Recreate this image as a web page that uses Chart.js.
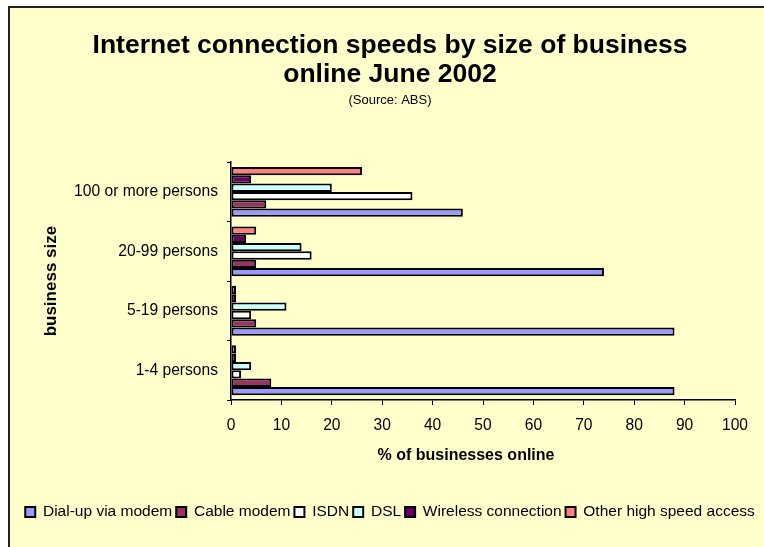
<!DOCTYPE html>
<html>
<head>
<meta charset="utf-8">
<title>Internet connection speeds by size of business online June 2002</title>
<script src="https://cdn.jsdelivr.net/npm/chart.js@4.4.1/dist/chart.umd.min.js"></script>
<style>
  html, body { margin: 0; padding: 0; background: #ffffff; }
  #wrap { width: 764px; height: 547px; }
</style>
</head>
<body>
<div id="wrap"><canvas id="myChart" width="764" height="547"></canvas></div>
<script>
// categories (bottom to top, like the excel sheet)
const sizes = ['1-4 persons', '5-19 persons', '20-99 persons', '100 or more persons'];

// % of businesses online for each connection type
const dialUp   = [88, 88, 74, 46];
const cable    = [8, 5, 5, 7];
const isdn     = [2, 4, 16, 36];
const dsl      = [4, 11, 14, 20];
const wireless = [1, 1, 3, 4];
const other    = [1, 1, 5, 26];

const seriesNames = ['Dial-up via modem', 'Cable modem', 'ISDN', 'DSL', 'Wireless connection', 'Other high speed access'];
const seriesColors = ['#9999FF', '#993366', '#FFFFFF', '#CCFFFF', '#660066', '#FF8080'];

const xTicks = [0, 10, 20, 30, 40, 50, 60, 70, 80, 90, 100];

const FONT = "'Liberation Sans', Arial, sans-serif";

//yellow sheet with the dark frame line on top and left
const sheetBackground = {
  id: 'sheetBackground',
  beforeDraw(chart) {
    const ctx = chart.ctx;
    ctx.save();
    ctx.fillStyle = '#ffffff';
    ctx.fillRect(0, 0, chart.width, chart.height);
    ctx.fillStyle = '#FFFFCC';
    ctx.fillRect(9, 7, chart.width - 9, chart.height - 7);
    ctx.strokeStyle = '#222222';
    ctx.lineWidth = 2;
    ctx.beginPath();
    ctx.moveTo(8, 7);
    ctx.lineTo(chart.width, 7);
    ctx.moveTo(9, 6);
    ctx.lineTo(9, chart.height);
    ctx.stroke();
    ctx.restore();
  }
};

// x axis title sits a bit left of the plot centre in the original
const xAxisTitle = {
  id: 'xAxisTitle',
  afterDraw(chart) {
    const ctx = chart.ctx;
    const area = chart.chartArea;
    ctx.save();
    ctx.font = 'bold 16px ' + FONT;
    ctx.fillStyle = '#000000';
    ctx.textAlign = 'center';
    ctx.textBaseline = 'middle';
    ctx.fillText('% of businesses online', (area.left + area.right) / 2 - 17, area.bottom + 56);
    ctx.restore();
  }
};

// bars inside a group are stacked top-down by dataset index,
// so the datasets go in reversed and the legend is turned back
const allSeries = [dialUp, cable, isdn, dsl, wireless, other];
const datasets = allSeries.map((values, i) => ({
  label: seriesNames[i],
  data: values,
  backgroundColor: seriesColors[i],
  borderColor: '#000000',
  borderWidth: 2,
  borderSkipped: false,
  categoryPercentage: 0.84,
  barPercentage: 1.0
})).reverse();

const ctx = document.getElementById('myChart').getContext('2d');
const chart = new Chart(ctx, {
  type: 'bar',
  data: { labels: sizes, datasets },
  plugins: [sheetBackground, xAxisTitle],
  options: {
    indexAxis: 'y',
    responsive: false,
    animation: false,
    layout: { padding: { left: 16, right: 0, top: 8, bottom: 17.25 } },
    plugins: {
      title: {
        display: true,
        text: ['Internet connection speeds by size of business', 'online June 2002'],
        color: '#000000',
        font: { family: FONT, size: 26.5, weight: 'bold', lineHeight: 1.12 },
        padding: { top: 22.5, bottom: 0 }
      },
      subtitle: {
        display: true,
        text: '(Source: ABS)',
        color: '#000000',
        font: { family: FONT, size: 13, lineHeight: 1.2 },
        padding: { top: 2.5, bottom: 54.2 }
      },
      legend: {
        position: 'bottom',
        reverse: true,
        labels: {
          color: '#000000',
          font: { family: FONT, size: 15.5 },
          boxWidth: 10,
          boxHeight: 10,
          padding: 4
        }
      },
      tooltip: { enabled: false }
    },
    scales: {
      x: {
        min: 0,
        max: 100,
        afterBuildTicks(scale) {
          scale.ticks = xTicks.map(v => ({ value: v }));
        },
        afterFit(scale) {
          scale.height = 100.25;
          scale.paddingRight = 29;
        },
        grid: { drawOnChartArea: false, drawTicks: true, tickLength: 5, color: '#000000', lineWidth: 1 },
        border: { display: true, color: '#000000', width: 1.5 },
        ticks: { color: '#000000', font: { family: FONT, size: 15.6 }, padding: 11.8, maxRotation: 0 }
      },
      y: {
        reverse: true,
        afterFit(scale) {
          scale.width = 215;
        },
        grid: { drawOnChartArea: false, drawTicks: true, tickLength: 4, color: '#000000', lineWidth: 1 },
        border: { display: true, color: '#000000', width: 1.5 },
        ticks: { color: '#000000', font: { family: FONT, size: 15.6 }, padding: 9 },
        title: {
          display: true,
          text: 'business size',
          color: '#000000',
          font: { family: FONT, size: 17, weight: 'bold', lineHeight: 1.2 },
          padding: { top: 25.5, bottom: 0 }
        }
      }
    }
  }
});
</script>
</body>
</html>
